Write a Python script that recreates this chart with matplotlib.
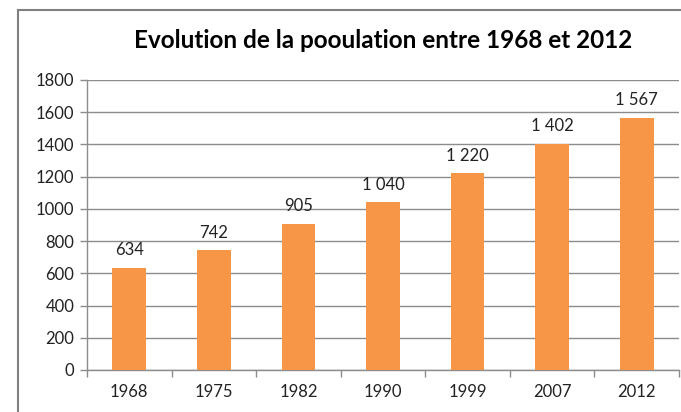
import numpy as np
import matplotlib.pyplot as plt
from matplotlib.lines import Line2D

years = ["1968", "1975", "1982", "1990", "1999", "2007", "2012"]
population = [634, 742, 905, 1040, 1220, 1402, 1567]
labels = ["634", "742", "905", "1 040", "1 220", "1 402", "1 567"]
yticks = [0, 200, 400, 600, 800, 1000, 1200, 1400, 1600, 1800]

plt.rcParams['font.family'] = ['Lato', 'DejaVu Sans']
gray = '#8c8c8c'

fig = plt.figure(figsize=(6.81, 4.12), dpi=100)
ax = fig.add_axes([87/681, 42/412, 592/681, 290/412])

# outer frame (only top and left visible)
fig.add_artist(Line2D([18/681, 18/681], [0, 1 - 10/412], transform=fig.transFigure, color='#808080', lw=1.5))
fig.add_artist(Line2D([18/681, 1], [1 - 10/412, 1 - 10/412], transform=fig.transFigure, color='#808080', lw=1.5))

x = np.arange(len(years))
ax.bar(x, population, width=0.4, color='#F79646', zorder=3)
for xi, v, lab in zip(x, population, labels):
	ax.annotate(lab, (xi, v), xytext=(0, 7), textcoords='offset points', ha='center', va='bottom', fontsize=12, color='#222222')

ax.set_xlim(-0.5, len(years) - 0.5)
ax.set_ylim(0, 1800)
ax.set_yticks(yticks)
ax.set_xticks(x)
ax.set_xticklabels(years)
ax.set_xticks(np.arange(-0.5, len(years)), minor=True)
ax.tick_params(axis='x', which='major', length=0, pad=10, labelsize=12, labelcolor='#222222')
ax.tick_params(axis='x', which='minor', length=5, color=gray, width=1)
ax.tick_params(axis='y', length=5, color=gray, width=1, pad=4, labelsize=12, labelcolor='#222222')
ax.yaxis.grid(True, color=gray, lw=1, zorder=0)
ax.set_axisbelow(True)
for s in ['top', 'right']:
	ax.spines[s].set_visible(False)
for s in ['left', 'bottom']:
	ax.spines[s].set_color(gray)
	ax.spines[s].set_linewidth(1)

fig.text((87 + 679) / 2 / 681, 1 - 40/412, "Evolution de la pooulation entre 1968 et 2012", ha='center', va='center', fontsize=17.5, fontweight='bold', color='black')

fig.savefig("out.png", dpi=100)
